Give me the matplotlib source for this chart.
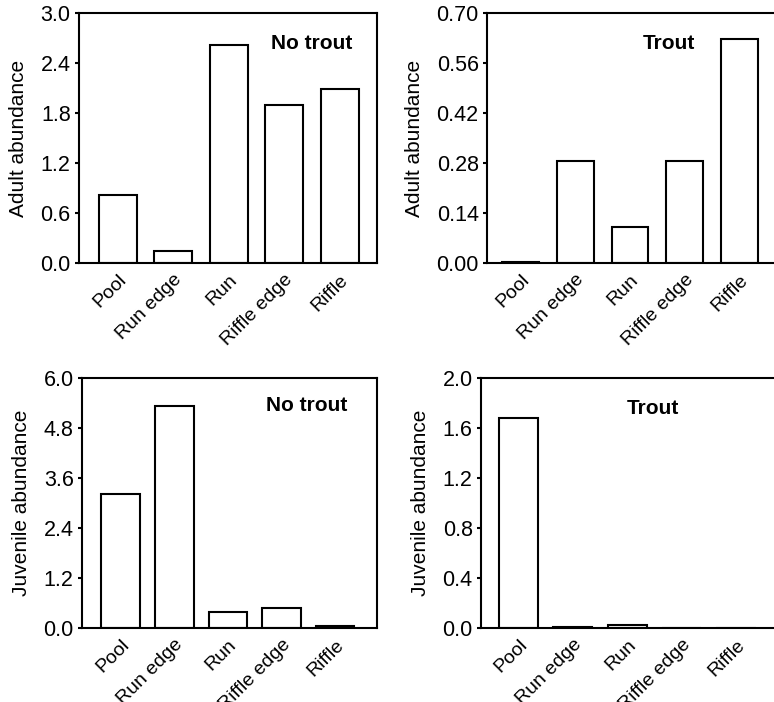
import matplotlib as mat
mat.use('Agg')
import matplotlib.pyplot as plt

plt.rcParams['font.family'] = ['Liberation Sans', 'DejaVu Sans']

habitats = ['Pool', 'Run edge', 'Run', 'Riffle edge', 'Riffle']

# mean abundance per habitat
adult_no_trout = [0.82, 0.15, 2.62, 1.90, 2.09]
adult_trout = [0.003, 0.286, 0.101, 0.286, 0.628]
juv_no_trout = [3.22, 5.34, 0.38, 0.48, 0.04]
juv_trout = [1.68, 0.005, 0.027, 0.0, 0.004]

adult_ticks = [0.0, 0.6, 1.2, 1.8, 2.4, 3.0]
adult_trout_ticks = [0.0, 0.14, 0.28, 0.42, 0.56, 0.70]
juv_ticks = [0.0, 1.2, 2.4, 3.6, 4.8, 6.0]
juv_trout_ticks = [0.0, 0.4, 0.8, 1.2, 1.6, 2.0]

W, H = 774, 702
fig = plt.figure(figsize=(W / 100, H / 100), dpi=100)


def panel(rect, vals, ticks, fmt, ylabel, title, title_xy, xlim, width, right_spine=True):
    ax = fig.add_axes(rect)
    x = range(len(vals))
    ax.bar(x, vals, width=width, color='white', edgecolor='black', linewidth=1.5)
    ax.set_xlim(*xlim)
    ax.set_ylim(ticks[0], ticks[-1])
    ax.set_yticks(ticks)
    ax.set_yticklabels([fmt.format(t) for t in ticks], fontsize=15.5)
    ax.set_xticks(list(x))
    ax.set_xticklabels(habitats, rotation=45, ha='right', rotation_mode='anchor', fontsize=14)
    ax.tick_params(axis='x', length=0, pad=6)
    ax.tick_params(axis='y', direction='out', length=3, width=1.5, pad=3)
    ax.set_ylabel(ylabel, fontsize=15, labelpad=9)
    for s in ax.spines.values():
        s.set_linewidth(1.5)
    ax.spines['right'].set_visible(right_spine)
    ax.text(title_xy[0], title_xy[1], title, transform=ax.transAxes, fontsize=15,
            fontweight='bold', ha='center', va='center')
    return ax


def rect(l, t, r, b):
    return [l / W, 1 - b / H, (r - l) / W, (b - t) / H]


panel(rect(79, 13, 377, 263), adult_no_trout, adult_ticks, '{:.1f}', 'Adult abundance',
      'No trout', (0.78, 0.88), (-0.70, 4.67), 0.68)
panel(rect(487, 13, 785, 263), adult_trout, adult_trout_ticks, '{:.2f}', 'Adult abundance',
      'Trout', (0.61, 0.88), (-0.61, 4.83), 0.67, right_spine=False)
panel(rect(82, 378, 377, 628), juv_no_trout, juv_ticks, '{:.1f}', 'Juvenile abundance',
      'No trout', (0.76, 0.89), (-0.72, 4.78), 0.72)
panel(rect(481, 378, 785, 628), juv_trout, juv_trout_ticks, '{:.1f}', 'Juvenile abundance',
      'Trout', (0.565, 0.88), (-0.69, 4.9), 0.72, right_spine=False)

plt.savefig('out.png', dpi=100)
